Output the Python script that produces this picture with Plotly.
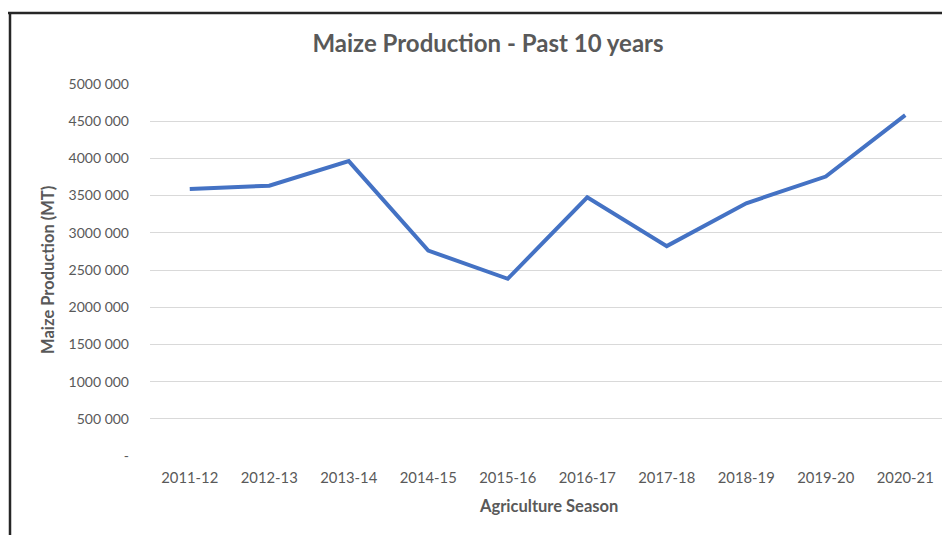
import plotly.graph_objects as go

seasons = ["2011-12", "2012-13", "2013-14", "2014-15", "2015-16",
           "2016-17", "2017-18", "2018-19", "2019-20", "2020-21"]
production = [3590000, 3633000, 3964000, 2761000, 2382000,
              3477000, 2821000, 3397000, 3756000, 4582000]
y_tick_vals = [0, 500000, 1000000, 1500000, 2000000, 2500000,
               3000000, 3500000, 4000000, 4500000, 5000000]
y_tick_text = ["-", "500 000", "1000 000", "1500 000", "2000 000", "2500 000",
               "3000 000", "3500 000", "4000 000", "4500 000", "5000 000"]

# the page body adds an 8px margin, so work in figure pixels = screen - 8
OFF = 8
W, H = 950 - OFF, 535 - OFF
ML, MT = 150 - OFF, 83 - OFF
PR, PB = 945 - OFF, 457 - OFF
MR, MB = W - PR, H - PB
PW, PH = W - ML - MR, H - MT - MB

def px_x(sx):
    return (sx - OFF - ML) / PW

def px_y(sy):
    return (H - MB - (sy - OFF)) / PH

FONT = "Lato, Roboto, sans-serif"
GREY = "#595959"

fig = go.Figure()
fig.add_trace(go.Scatter(
    x=seasons, y=production, mode="lines",
    line=dict(color="#4472C4", width=4, shape="linear"),
    hoverinfo="x+y", showlegend=False,
))

fig.update_layout(
    width=W, height=H,
    margin=dict(l=ML, r=MR, t=MT, b=MB, pad=0),
    paper_bgcolor="white", plot_bgcolor="white",
    font=dict(family=FONT, color=GREY, size=13),
    title=dict(text="<b>Maize Production - Past 10 years</b>",
               x=(488 - OFF) / W, xref="container", xanchor="center",
               y=1 - (44 - OFF) / H, yref="container", yanchor="middle",
               font=dict(family=FONT, size=24, color=GREY)),
    xaxis=dict(type="category", range=[-0.5, 9.5], showgrid=False,
               zeroline=False, showline=False, ticks="",
               tickfont=dict(size=14.8, color=GREY), ticklabelstandoff=10),
    yaxis=dict(range=[-13000, 5013000], tickvals=y_tick_vals, ticktext=y_tick_text,
               showgrid=True, gridcolor="#D9D9D9", gridwidth=1.3,
               zeroline=False, showline=False, ticks="",
               tickfont=dict(size=14, color=GREY), ticklabelstandoff=20),
    annotations=[
        dict(text="<b>Agriculture Season</b>", xref="paper", yref="paper",
             x=px_x(548), y=px_y(506), xanchor="center", yanchor="middle",
             showarrow=False, font=dict(family=FONT, size=16.5, color=GREY)),
        dict(text="<b>Maize Production (MT)</b>", xref="paper", yref="paper",
             x=px_x(48), y=px_y(270), xanchor="center", yanchor="middle",
             textangle=-90, showarrow=False,
             font=dict(family=FONT, size=16.5, color=GREY)),
    ],
    shapes=[
        dict(type="line", xref="paper", yref="paper",
             x0=px_x(5), x1=px_x(960), y0=px_y(13), y1=px_y(13),
             line=dict(color="#262626", width=2.5)),
        dict(type="line", xref="paper", yref="paper",
             x0=px_x(10), x1=px_x(10), y0=px_y(13), y1=px_y(545),
             line=dict(color="#262626", width=2.5)),
    ],
)

fig.write_html("out.html")
